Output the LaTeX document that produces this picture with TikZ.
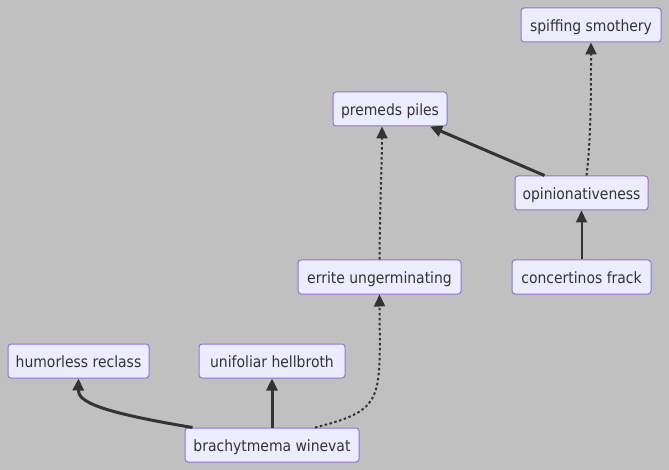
\documentclass[tikz,border=0pt]{standalone}
\usepackage{fontspec}
\setmainfont{DejaVu Sans Condensed}
\usetikzlibrary{arrows.meta}
\definecolor{bg}{HTML}{C0C0C0}
\definecolor{nodefill}{HTML}{ECECFF}
\definecolor{nodeborder}{HTML}{9370DB}
\definecolor{edge}{HTML}{333333}
\definecolor{txt}{HTML}{333333}
\begin{document}
\begin{tikzpicture}[x=1pt,y=-1pt,
  box/.style={draw=nodeborder,fill=nodefill,line width=1pt,rounded corners=3pt,
    minimum height=34pt,inner xsep=7pt,text=txt,font=\fontsize{15.5}{17}\selectfont,
    text height=15pt,text depth=2pt,anchor=center},
  tip/.style={-{Triangle[length=12pt,width=11pt]}},
  thick edge/.style={tip,draw=edge,line width=3pt},
  normal edge/.style={tip,draw=edge,line width=2pt},
  dot edge/.style={tip,draw=edge,line width=2pt,dash pattern=on 2.5pt off 2.5pt}]
\fill[bg] (0,0) rectangle (669,470);
\useasboundingbox (0,0) rectangle (669,470);
\node[box,minimum width=140pt] (sp) at (591,25) {spiffing smothery};
\node[box,minimum width=114pt] (pp) at (390,109) {premeds piles};
\node[box,minimum width=133pt] (op) at (581.5,193) {opinionativeness};
\node[box,minimum width=163pt] (eu) at (379.5,277) {errite ungerminating};
\node[box,minimum width=139pt] (cf) at (581.5,277) {concertinos frack};
\node[box,minimum width=141pt] (hr) at (78.5,361) {humorless reclass};
\node[box,minimum width=146pt] (uh) at (272,361) {unifoliar hellbroth};
\node[box,minimum width=174pt] (bw) at (272,445) {brachytmema winevat};
\draw[thick edge] (bw.north west)++(8,0) .. controls (100,412) and (78,402) .. (hr.south);
\draw[thick edge] (bw.north) -- (uh.south);
\draw[dot edge] ([xshift=43pt]bw.north) .. controls (385,410) and (380,400) .. (eu.south);
\draw[dot edge] (eu.north) .. controls (380,200) and (382,160) .. ([xshift=-8pt]pp.south);
\draw[thick edge] ([xshift=-37pt]op.north) -- ([xshift=40pt]pp.south);
\draw[dot edge] ([xshift=5pt]op.north) .. controls (591,140) and (591,90) .. (sp.south);
\draw[normal edge] (cf.north) -- (op.south);
\end{tikzpicture}
\end{document}
